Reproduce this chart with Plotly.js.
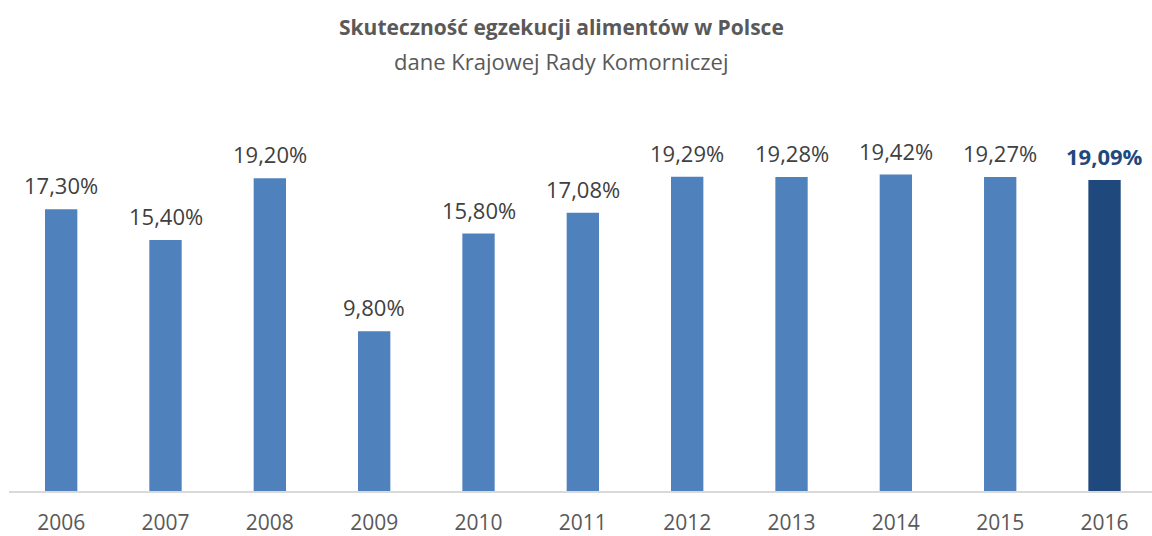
<!DOCTYPE html>
<html>
<head>
<meta charset="utf-8">
<script src="https://cdn.plot.ly/plotly-3.0.1.min.js"></script>
<style>html,body{margin:0;padding:0;background:#fff;}#chart{width:1152px;height:536px;}</style>
</head>
<body>
<div id="chart"></div>
<script>
const years = ["2006","2007","2008","2009","2010","2011","2012","2013","2014","2015","2016"];
const values = [17.30, 15.40, 19.20, 9.80, 15.80, 17.08, 19.29, 19.28, 19.42, 19.27, 19.09];
const labels = ["17,30%","15,40%","19,20%","9,80%","15,80%","17,08%","19,29%","19,28%","19,42%","19,27%","19,09%"];
const highlightIndex = 10;
const titleText = "Skuteczność egzekucji alimentów w Polsce";
const subtitleText = "dane Krajowej Rady Komorniczej";

const FONT = "Open Sans, Liberation Sans, sans-serif";
const colors = years.map((y, i) => i === highlightIndex ? "#1F497D" : "#4F81BD");

const annotations = years.map((y, i) => ({
  x: i, y: values[i], xref: "x", yref: "y",
  text: i === highlightIndex ? "<b>" + labels[i] + "</b>" : labels[i],
  showarrow: false, yanchor: "bottom", yshift: 7,
  font: {family: FONT, size: 22, color: i === highlightIndex ? "#1F497D" : "#404040"}
}));
const titleX = (561 - 9) / 1143;
annotations.push({
  xref: "paper", yref: "paper", x: titleX, y: 1, xanchor: "center", yanchor: "middle",
  yshift: 73, showarrow: false,
  text: "<b>" + titleText + "</b>",
  font: {family: FONT, size: 21, color: "#595959"}
});
annotations.push({
  xref: "paper", yref: "paper", x: titleX, y: 1, xanchor: "center", yanchor: "middle",
  yshift: 39, showarrow: false,
  text: subtitleText,
  font: {family: FONT, size: 22, color: "#595959"}
});

Plotly.newPlot("chart", [{
  type: "bar",
  x: years.map((y, i) => i),
  y: values,
  marker: {color: colors},
  width: 0.31,
  hoverinfo: "skip"
}], {
  width: 1152, height: 536,
  margin: {l: 9, r: 0, t: 100, b: 45},
  paper_bgcolor: "#fff", plot_bgcolor: "#fff",
  xaxis: {
    range: [-0.5, 10.455], tickmode: "array", tickvals: years.map((y, i) => i), ticktext: years,
    showgrid: false, zeroline: false, showline: true, linecolor: "#D9D9D9", linewidth: 2,
    ticks: "", ticklabelstandoff: 12,
    tickfont: {family: FONT, size: 21, color: "#595959"}, fixedrange: true
  },
  yaxis: {range: [0, 24], visible: false, fixedrange: true},
  annotations: annotations,
  showlegend: false
}, {displayModeBar: false, staticPlot: true});
</script>
</body>
</html>
